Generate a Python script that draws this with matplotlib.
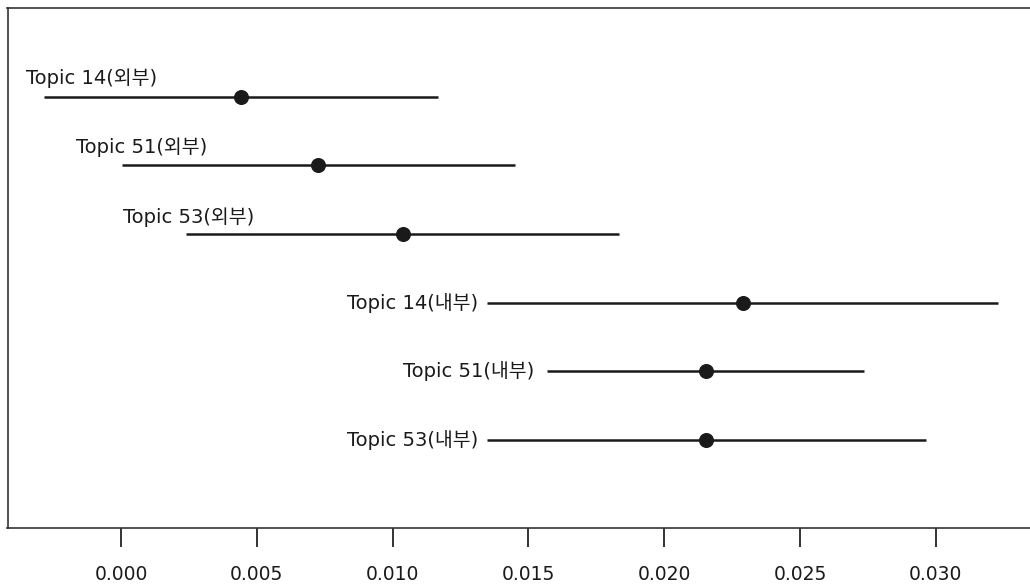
import matplotlib
matplotlib.use("Agg")
import matplotlib.pyplot as plt

# ---- data ----
topics = ["Topic 14(외부)", "Topic 51(외부)", "Topic 53(외부)",
          "Topic 14(내부)", "Topic 51(내부)", "Topic 53(내부)"]
estimate = [0.00441, 0.00727, 0.01037, 0.02289, 0.02154, 0.02154]
lower = [-0.00284, 0.00003, 0.00239, 0.01347, 0.01570, 0.01347]
upper = [0.01166, 0.01449, 0.01835, 0.03231, 0.02737, 0.02963]
xticks = [0.000, 0.005, 0.010, 0.015, 0.020, 0.025, 0.030]
xtick_labels = ["0.000", "0.005", "0.010", "0.015", "0.020", "0.025", "0.030"]

# label layout: (dx px, dy px, ha) relative to the lower end of each interval
label_layout = [(48, 19, "center"), (20, 18, "center"), (3, 17, "center"),
                (-9, 0, "right"), (-13, 0, "right"), (-9, 0, "right")]

plt.rcParams['font.family'] = ['DejaVu Sans', 'Noto Sans CJK KR']

fig = plt.figure(figsize=(10.30, 5.85), dpi=100)
ax = fig.add_axes([7.5 / 1030, 57 / 585, 1 - 7.5 / 1030, 520 / 585])

ink = "#1a1a1a"
ypos = list(range(len(topics)))
for i, t in enumerate(topics):
    ax.plot([lower[i], upper[i]], [ypos[i], ypos[i]], color=ink, lw=1.8,
            solid_capstyle="butt", zorder=2)
    ax.plot(estimate[i], ypos[i], "o", color=ink, ms=9.8, zorder=3)
    dx, dy, ha = label_layout[i]
    ax.annotate(t, xy=(lower[i], ypos[i]), xytext=(dx, dy),
                textcoords="offset pixels", ha=ha, va="center",
                fontsize=14, color=ink)

ax.set_xlim(-0.00418, 0.03347)
ax.set_ylim(5 + 1.282, -1.292)
ax.set_yticks([])
ax.set_xticks(xticks)
ax.set_xticklabels(xtick_labels, fontsize=13.5, color=ink)
ax.tick_params(axis="x", length=13.7, width=1.4, color="#333333", pad=13)
for s in ["left", "bottom", "top"]:
    ax.spines[s].set_linewidth(1.2)
    ax.spines[s].set_color("#333333")
ax.spines["right"].set_visible(False)

fig.savefig("out.png", dpi=100)
